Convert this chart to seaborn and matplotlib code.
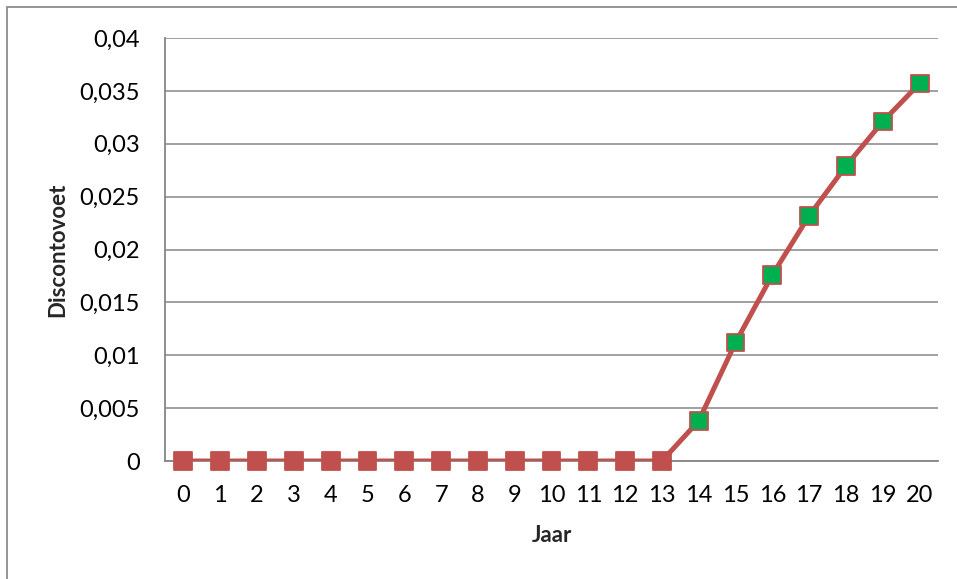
import matplotlib
matplotlib.use("Agg")
import matplotlib.pyplot as plt
import seaborn as sns
import pandas as pd
from matplotlib.patches import Rectangle

# Discount rate per year
jaar = list(range(21))
discontovoet = [0, 0, 0, 0, 0, 0, 0, 0, 0, 0, 0, 0, 0, 0,
                0.0038, 0.0112, 0.0176, 0.0232, 0.0279, 0.0321, 0.0357]
y_ticks = [0, 0.005, 0.01, 0.015, 0.02, 0.025, 0.03, 0.035, 0.04]
y_tick_labels = ["0", "0,005", "0,01", "0,015", "0,02", "0,025", "0,03", "0,035", "0,04"]

df = pd.DataFrame({"Jaar": jaar, "Discontovoet": discontovoet})
df["status"] = ["nul" if v == 0 else "positief" for v in discontovoet]

sns.set_style("white")
plt.rcParams["font.family"] = ["Lato", "DejaVu Sans"]

RED = "#C0504D"
GREEN = "#00B050"
GRID = "#868686"

fig = plt.figure(figsize=(9.57, 5.79), dpi=100)
ax = fig.add_axes([165 / 957, 1 - 461 / 579, (938 - 165) / 957, (461 - 38) / 579])

sns.lineplot(data=df, x="Jaar", y="Discontovoet", ax=ax, color=RED,
             linewidth=3.6, zorder=3, legend=False)
sns.scatterplot(data=df, x="Jaar", y="Discontovoet", hue="status",
                palette={"nul": RED, "positief": GREEN}, marker="s", s=165,
                edgecolor=RED, linewidth=1.3, ax=ax, zorder=4, legend=False,
                clip_on=False)

ax.set_xlim(-0.5, 20.5)
ax.set_ylim(0, 0.04)

ax.set_yticks(y_ticks)
ax.set_yticklabels(y_tick_labels)
ax.yaxis.grid(True, color=GRID, linewidth=1.1)
ax.set_axisbelow(True)

# Tick marks sit between categories; labels sit on the categories
ax.set_xticks([i - 0.5 for i in range(22)])
ax.set_xticklabels([])
ax.set_xticks(jaar, minor=True)
ax.set_xticklabels([str(j) for j in jaar], minor=True)
ax.tick_params(axis="x", which="major", length=6, width=1.1, color=GRID, direction="out")
ax.tick_params(axis="x", which="minor", length=0, pad=17, labelsize=17, labelcolor="black")
ax.tick_params(axis="y", length=6, width=1.1, color=GRID, direction="out",
               pad=12, labelsize=17, labelcolor="black")

for side in ["top", "right"]:
    ax.spines[side].set_visible(False)
for side in ["left", "bottom"]:
    ax.spines[side].set_color(GRID)
    ax.spines[side].set_linewidth(1.3)

ax.set_xlabel("Jaar", fontsize=16, fontweight="bold", labelpad=14)
ax.set_ylabel("Discontovoet", fontsize=16, fontweight="bold", labelpad=8)

# Chart frame
fig.add_artist(Rectangle((7 / 957, -0.1), 1.2, 1 - 7 / 579 + 0.1,
                         transform=fig.transFigure, fill=False,
                         edgecolor="#8C8C8C", linewidth=1.3))

fig.savefig("out.png", dpi=100)
